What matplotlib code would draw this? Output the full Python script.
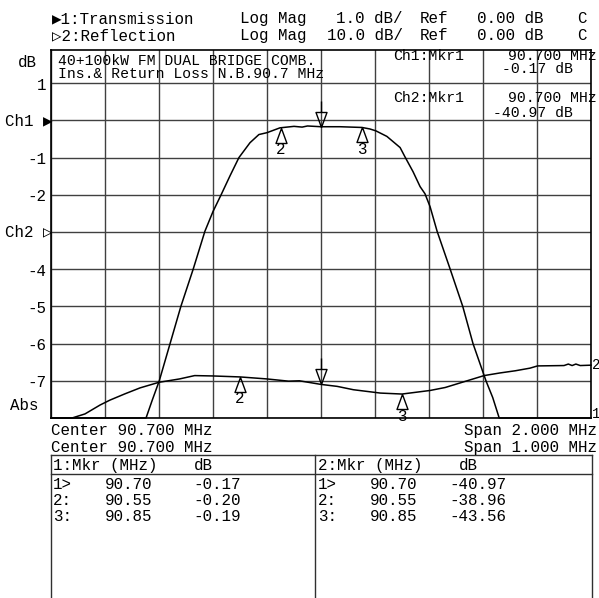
import numpy as np
import matplotlib
matplotlib.use('Agg')
import matplotlib.pyplot as plt
from matplotlib.path import Path
from matplotlib.lines import Line2D

# -------------------------------------------------------------------------------------
# Data read from the analyzer screen
ch1_center, ch1_span, ch1_scale, ch1_ref = 90.7, 2.0, 1.0, 0.0
ch2_center, ch2_span, ch2_scale, ch2_ref = 90.7, 1.0, 10.0, 0.0
ch1_ref_div, ch2_ref_div = 8, 5

ch1_freq = [89.700, 90.052, 90.075, 90.101, 90.141, 90.181, 90.227, 90.270, 90.300, 90.330,
            90.363, 90.396, 90.437, 90.470, 90.500, 90.548, 90.600, 90.630, 90.650, 90.700,
            90.770, 90.852, 90.881, 90.903, 90.944, 90.993, 91.011, 91.041, 91.067, 91.085,
            91.104, 91.130, 91.178, 91.225, 91.263, 91.311, 91.336, 91.360, 91.700]
ch1_db = [-8.0, -8.0, -7.52, -7.0, -6.0, -5.0, -3.99, -2.98, -2.45, -2.0,
          -1.49, -1.0, -0.60, -0.38, -0.33, -0.20, -0.16, -0.18, -0.15, -0.17,
          -0.17, -0.19, -0.23, -0.28, -0.43, -0.73, -0.98, -1.38, -1.78, -1.97,
          -2.32, -2.98, -3.99, -5.0, -6.0, -7.0, -7.45, -8.0, -8.0]

ch2_freq = [90.200, 90.239, 90.263, 90.291, 90.309, 90.337, 90.365, 90.400, 90.438, 90.466,
            90.500, 90.550, 90.600, 90.640, 90.660, 90.700, 90.730, 90.760, 90.810, 90.850,
            90.902, 90.930, 90.957, 91.002, 91.031, 91.060, 91.087, 91.101, 91.150, 91.158,
            91.165, 91.172, 91.180, 91.200]
ch2_db = [-50.0, -50.0, -48.9, -46.5, -45.2, -43.5, -41.9, -40.4, -39.5, -38.6,
          -38.7, -38.96, -39.5, -40.1, -40.0, -40.97, -41.5, -42.4, -43.3, -43.56,
          -42.6, -41.8, -40.6, -38.6, -37.9, -37.3, -36.6, -36.0, -35.9, -35.5,
          -35.9, -35.5, -35.9, -35.8]

mkr_freq = [90.70, 90.55, 90.85]
mkr_ch1_db = [-0.17, -0.20, -0.19]
mkr_ch2_db = [-40.97, -38.96, -43.56]
mkr_names = ['1>', '2:', '3:']

ch1_ticks = [1, -1, -2, -4, -5, -6, -7]
# -------------------------------------------------------------------------------------

W, H = 599, 598
plt.rcParams['font.family'] = ['Liberation Mono', 'DejaVu Sans Mono', 'DejaVu Sans']
plt.rcParams['font.size'] = 11.4
SMALL = 10.6


def fx(x):
    return x / W


def fy(y):
    return 1 - y / H


def ftext(x, y, s, **kw):
    # y is the visual middle of the capitals
    size = kw.pop('size', plt.rcParams['font.size'])
    fig.text(fx(x), fy(y + size * 0.46), s, va='baseline', size=size, **kw)


def fline(xs, ys, **kw):
    kw.setdefault('color', '#303030')
    kw.setdefault('lw', 1.0)
    fig.add_artist(Line2D([fx(v) for v in xs], [fy(v) for v in ys],
                          transform=fig.transFigure, **kw))


fig = plt.figure(figsize=(W / 100, H / 100), dpi=100)
fig.patch.set_facecolor('white')

# plot area: 10 x 10 divisions, top slightly cut by the title area
left, right, top, bottom = 51, 591, 50, 418
div_px = 37.2
rect = [fx(left), fy(bottom), (right - left) / W, (bottom - top) / H]
vis_divs = (bottom - top) / div_px

ax = fig.add_axes(rect)
ch1_bot = ch1_ref - ch1_ref_div * ch1_scale
ax.set_xlim(ch1_center - ch1_span / 2, ch1_center + ch1_span / 2)
ax.set_ylim(ch1_bot, ch1_bot + vis_divs * ch1_scale)
ax.set_xticks(np.linspace(ch1_center - ch1_span / 2, ch1_center + ch1_span / 2, 11))
ax.set_yticks(ch1_bot + np.arange(0, 10) * ch1_scale)
ax.grid(True, color='#404040', lw=1.0)
ax.tick_params(length=0, labelbottom=False, labelleft=False)
for sp in ax.spines.values():
    sp.set_linewidth(1.2)
    sp.set_color('black')

ax2 = fig.add_axes(rect, frameon=False)
ch2_bot = ch2_ref - ch2_ref_div * ch2_scale
ax2.set_xlim(ch2_center - ch2_span / 2, ch2_center + ch2_span / 2)
ax2.set_ylim(ch2_bot, ch2_bot + vis_divs * ch2_scale)
ax2.set_xticks([])
ax2.set_yticks([])

trace_kw = dict(color='black', lw=1.1, solid_joinstyle='round', clip_on=False)
ax.plot(ch1_freq, ch1_db, **trace_kw)
ax2.plot(ch2_freq, ch2_db, **trace_kw)

# marker symbols: tip on the trace
up_tri = Path([(0, 0), (-5.5, -15), (5.5, -15), (0, 0)])
down_tri = Path([(0, 0), (-5.5, 15), (5.5, 15), (0, 0), (0, 15), (0, 26)],
                [Path.MOVETO, Path.LINETO, Path.LINETO, Path.LINETO, Path.MOVETO, Path.LINETO])
mk_kw = dict(ls='none', mfc='none', mec='black', mew=1.0, clip_on=False)
for a, dbs in ((ax, mkr_ch1_db), (ax2, mkr_ch2_db)):
    a.plot(mkr_freq[:1], dbs[:1], marker=down_tri, ms=26 * 2 * 0.72, **mk_kw)
    a.plot(mkr_freq[1:], dbs[1:], marker=up_tri, ms=15 * 2 * 0.72, **mk_kw)
    for f, d, n in zip(mkr_freq[1:], dbs[1:], mkr_names[1:]):
        a.annotate(n[0], (f, d), xytext=(0, -22), textcoords='offset pixels',
                   ha='center', va='center')

# trace end labels
ax.annotate('1', (ch1_freq[-1], ch1_db[-1]), xytext=(1, 4), textcoords='offset pixels',
            ha='left', va='center', annotation_clip=False, size=10)
ax2.annotate('2', (ch2_freq[-1], ch2_db[-1]), xytext=(1, 0), textcoords='offset pixels',
             ha='left', va='center', annotation_clip=False, size=10)

# left scale labels
for t in ch1_ticks:
    ax.annotate(str(t), (0, t), xycoords=('axes fraction', 'data'), xytext=(-5, -2),
                textcoords='offset pixels', ha='right', va='center')
ax.annotate('Ch1 \u25b6', (0, ch1_ref), xycoords=('axes fraction', 'data'), xytext=(1, 0),
            textcoords='offset pixels', ha='right', va='center')
ax2.annotate('Ch2 \u25b7', (0, ch2_ref), xycoords=('axes fraction', 'data'), xytext=(1, 0),
             textcoords='offset pixels', ha='right', va='center')
ftext(10, 405, 'Abs')
ftext(18, 62, 'dB')

# header
ftext(52, 18, '\u25b61:Transmission')
ftext(52, 35, '\u25b72:Reflection')
ftext(240, 18, 'Log Mag')
ftext(240, 35, 'Log Mag')
ftext(403, 18, f'{ch1_scale:.1f} dB/', ha='right')
ftext(403, 35, f'{ch2_scale:.1f} dB/', ha='right')
ftext(420, 18, 'Ref')
ftext(420, 35, 'Ref')
ftext(477, 18, f'{ch1_ref:.2f} dB')
ftext(477, 35, f'{ch2_ref:.2f} dB')
ftext(577, 18, 'C')
ftext(577, 35, 'C')

# title inside the graticule
ftext(58, 60, '40+100kW FM DUAL BRIDGE COMB.', size=SMALL)
ftext(58, 73, 'Ins.& Return Loss N.B.90.7 MHz', size=SMALL)

# active marker readouts
ftext(393, 55, 'Ch1:Mkr1', size=SMALL)
ftext(597, 55, f'{mkr_freq[0]:.3f} MHz', ha='right', size=SMALL)
ftext(573, 68, f'{mkr_ch1_db[0]:.2f} dB', ha='right', size=SMALL)
ftext(393, 97, 'Ch2:Mkr1', size=SMALL)
ftext(597, 97, f'{mkr_freq[0]:.3f} MHz', ha='right', size=SMALL)
ftext(573, 112, f'{mkr_ch2_db[0]:.2f} dB', ha='right', size=SMALL)

# stimulus lines
ftext(51, 430, f'Center {ch1_center:.3f} MHz')
ftext(51, 447, f'Center {ch2_center:.3f} MHz')
ftext(597, 430, f'Span {ch1_span:.3f} MHz', ha='right')
ftext(597, 447, f'Span {ch2_span:.3f} MHz', ha='right')

# marker table
tab_top, tab_sep, tab_mid, tab_right = 455, 474, 315, 592
fline([left, tab_right], [tab_top, tab_top])
fline([left, tab_right], [tab_sep, tab_sep])
fline([left, left], [tab_top, 600])
fline([tab_mid, tab_mid], [tab_top, 600])
fline([tab_right, tab_right], [tab_top, 600])

row_y = [484, 500, 516]
for x0, ch, dbs in ((53, 1, mkr_ch1_db), (318, 2, mkr_ch2_db)):
    ftext(x0, 465, f'{ch}:Mkr (MHz)')
    ftext(x0 + 141, 465, 'dB')
    for y, n, f, d in zip(row_y, mkr_names, mkr_freq, dbs):
        ftext(x0, y, n)
        ftext(x0 + 99, y, f'{f:.2f}', ha='right')
        ftext(x0 + 188, y, f'{d:.2f}', ha='right')

fig.savefig('out.png', dpi=100)
plt.close()
